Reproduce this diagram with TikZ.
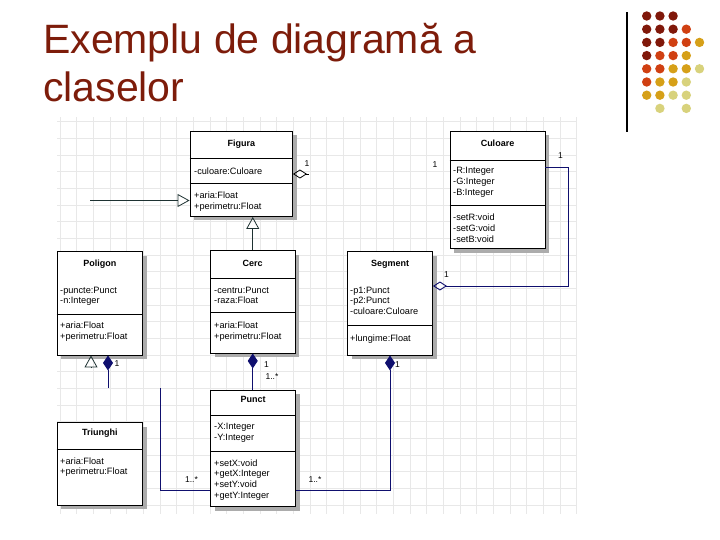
\documentclass[tikz,border=0pt]{standalone}
\usepackage{fontspec}
\setmainfont{Liberation Sans}
\usetikzlibrary{arrows.meta,shadows}

\definecolor{titlered}{RGB}{125,28,10}
\definecolor{umlnavy}{RGB}{15,15,110}
\definecolor{genline}{RGB}{30,50,50}
\definecolor{dotdark}{RGB}{128,24,10}
\definecolor{dotorange}{RGB}{208,64,18}
\definecolor{dotgold}{RGB}{214,160,24}
\definecolor{dotpale}{RGB}{216,210,124}

\tikzset{
  classbox/.style={draw=black, fill=white, line width=0.9pt, inner sep=0pt,
    drop shadow={shadow xshift=4pt, shadow yshift=-4pt, fill=gray!65, opacity=1}},
  classname/.style={inner sep=0pt, font=\fontsize{9}{11}\selectfont\bfseries},
  members/.style={anchor=north west, inner sep=0pt, align=left, font=\fontsize{9.2}{10.9}\selectfont},
  sepline/.style={draw=black, line width=0.8pt},
  mult/.style={inner sep=0pt, font=\fontsize{8.5}{9}\selectfont},
  gridline/.style={draw=gray!18, line width=0.5pt},
  gen/.style={draw=genline, line width=0.8pt, -{Triangle[open,length=12pt,width=13pt]}},
  comp/.style={draw=umlnavy, line width=0.9pt, {Diamond[length=15pt,width=10pt]}-},
  assoc/.style={draw=umlnavy, line width=0.9pt},
  agg/.style={draw=black, line width=0.8pt, {Diamond[open,length=14pt,width=9pt]}-},
  aggend/.style={draw=umlnavy, line width=0.9pt, -{Diamond[open,length=14pt,width=9pt]}},
  title/.style={inner sep=0pt, anchor=base west, text=titlered, font=\fontsize{41}{48}\selectfont}
}

\begin{document}
\begin{tikzpicture}[x=1pt, y=-1pt]
\useasboundingbox (0,0) rectangle (720,540);

% title and decoration
\node[title] (title1) at (43,54) {Exemplu de diagramă a};
\node[title] (title2) at (43,102) {claselor};
\draw[line width=1.1pt] (627,12.5) -- (627,132);
\foreach \c/\r/\dc in {1/1/dotdark, 2/1/dotdark, 3/1/dotdark,
    1/2/dotdark, 2/2/dotdark, 3/2/dotdark, 4/2/dotorange,
    1/3/dotdark, 2/3/dotdark, 3/3/dotorange, 4/3/dotorange, 5/3/dotgold,
    1/4/dotdark, 2/4/dotorange, 3/4/dotorange, 4/4/dotgold,
    1/5/dotorange, 2/5/dotorange, 3/5/dotgold, 4/5/dotgold, 5/5/dotpale,
    1/6/dotorange, 2/6/dotgold, 3/6/dotgold, 4/6/dotpale,
    1/7/dotgold, 2/7/dotgold, 3/7/dotpale, 4/7/dotpale,
    2/8/dotpale, 4/8/dotpale}
  \fill[\dc] ({633.5+13.2*\c},{2.8+13.2*\r}) circle (4.7pt);

% background grid
\foreach \gx in {60,76.667,...,578} \draw[gridline] (\gx,117) -- (\gx,514);
\foreach \gy in {121.7,138.367,...,515} \draw[gridline] (57,\gy) -- (577,\gy);

% Figura
\node[classbox, minimum width=102.5pt, minimum height=85pt] (figura) at (241.25,174) {};
\node[classname] (figuraname) at (241.25,144.5) {Figura};
\draw[sepline] (figura.west |- 0,158) -- (figura.east |- 0,158);
\draw[sepline] (figura.west |- 0,183) -- (figura.east |- 0,183);
\node[members] (figuraattr) at (194,168) {-culoare:Culoare};
\node[members] (figuraops) at (194,191.5) {+aria:Float\\+perimetru:Float};

% Culoare
\node[classbox, minimum width=95pt, minimum height=117pt] (culoare) at (497.5,190) {};
\node[classname] (culoarename) at (497.5,143.5) {Culoare};
\draw[sepline] (culoare.west |- 0,160) -- (culoare.east |- 0,160);
\draw[sepline] (culoare.west |- 0,205) -- (culoare.east |- 0,205);
\node[members] (culoareattr) at (453,167.2) {-R:Integer\\-G:Integer\\-B:Integer};
\node[members] (culoareops) at (453,213.8) {-setR:void\\-setG:void\\-setB:void};

% Poligon
\node[classbox, minimum width=85.5pt, minimum height=103.5pt] (poligon) at (99.75,303.25) {};
\node[classname] (poligonname) at (99.75,264) {Poligon};
\draw[sepline] (poligon.west |- 0,314) -- (poligon.east |- 0,314);
\node[members] (poligonattr) at (60,286.5) {-puncte:Punct\\-n:Integer};
\node[members] (poligonops) at (60,321.8) {+aria:Float\\+perimetru:Float};

% Cerc
\node[classbox, minimum width=84.5pt, minimum height=102.5pt] (cerc) at (252.75,301.75) {};
\node[classname] (cercname) at (252.75,263.3) {Cerc};
\draw[sepline] (cerc.west |- 0,278) -- (cerc.east |- 0,278);
\draw[sepline] (cerc.west |- 0,312.7) -- (cerc.east |- 0,312.7);
\node[members] (cercattr) at (214,286.5) {-centru:Punct\\-raza:Float};
\node[members] (cercops) at (214,321.5) {+aria:Float\\+perimetru:Float};

% Segment
\node[classbox, minimum width=85pt, minimum height=103.5pt] (segment) at (390,303.25) {};
\node[classname] (segmentname) at (390,264) {Segment};
\draw[sepline] (segment.west |- 0,325) -- (segment.east |- 0,325);
\node[members] (segmentattr) at (350,286.5) {-p1:Punct\\-p2:Punct\\-culoare:Culoare};
\node[members] (segmentops) at (350,334.8) {+lungime:Float};

% Triunghi
\node[classbox, minimum width=85.5pt, minimum height=82.5pt] (triunghi) at (99.75,463.75) {};
\node[classname] (triunghiname) at (99.75,433.3) {Triunghi};
\draw[sepline] (triunghi.west |- 0,449.3) -- (triunghi.east |- 0,449.3);
\node[members] (triunghiops) at (60,457.2) {+aria:Float\\+perimetru:Float};

% Punct
\node[classbox, minimum width=85pt, minimum height=116.5pt] (punct) at (253,448.25) {};
\node[classname] (punctname) at (253,399.3) {Punct};
\draw[sepline] (punct.west |- 0,415) -- (punct.east |- 0,415);
\draw[sepline] (punct.west |- 0,451.7) -- (punct.east |- 0,451.7);
\node[members] (punctattr) at (214,423.2) {-X:Integer\\-Y:Integer};
\node[members] (punctops) at (214,459.2) {+setX:void\\+getX:Integer\\+setY:void\\+getY:Integer};

% connectors
\coordinate (genstart) at (90,200.5);
\coordinate (trigen) at (91,368);
\coordinate (polend) at (108,388);
\coordinate (punctlink) at (160,388);
\coordinate (figagg) at (309,174);
\coordinate (culcorner) at (568,286);

\draw[gen] (genstart) -- (figura.west |- genstart);
\draw[gen] (cerc.north) -- (cerc.north |- figura.south);
\draw[gen] (trigen) -- (trigen |- poligon.south);
\draw[comp] (polend |- poligon.south) -- (polend);
\draw[assoc] (punctlink) |- (punct.west |- 0,490);
\draw[comp] (cerc.south) -- (cerc.south |- punct.north);
\draw[comp] (segment.south) |- (punct.east |- 0,490);
\draw[agg] (figura.east |- figagg) -- (figagg);
\draw[aggend] (culoare.east |- 0,167) -| (culcorner) -- (segment.east |- culcorner);

% multiplicities
\node[mult] (mfigura) at (307,164) {1};
\node[mult] (mculoarel) at (435,165) {1};
\node[mult] (mculoarer) at (560.5,156) {1};
\node[mult] (msegmentr) at (446.5,275) {1};
\node[mult] (mpoligon) at (117,364) {1};
\node[mult] (mcerc) at (266.5,365) {1};
\node[mult] (mcercpunct) at (272,377) {1..*};
\node[mult] (msegment) at (397.5,364.5) {1};
\node[mult] (mpunctl) at (191.5,480) {1..*};
\node[mult] (mpunctr) at (315,480) {1..*};
\end{tikzpicture}
\end{document}
